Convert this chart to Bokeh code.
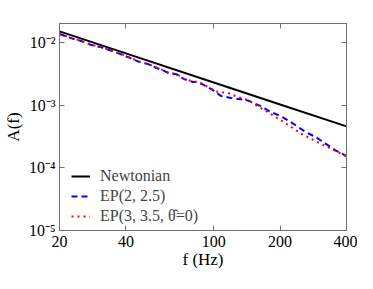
from bokeh.plotting import figure
from bokeh.models import (FixedTicker, CustomJSTickFormatter, LogAxis, Legend,
                          LegendItem)
from bokeh.embed import file_html
from bokeh.resources import INLINE

# ---- data ----
f_newt = [20, 40, 100, 200, 400]
a_newt = [0.0150, 0.00668, 0.00229, 0.00102, 0.000458]

f_ep2 = [20, 22.7, 25.1, 27.9, 31.0, 34.4, 38.1, 42.3, 45.9, 50.5, 54.8, 59.6,
         62.8, 67.6, 73.4, 80.6, 84.9, 90.4, 99.2, 107.8, 119.6, 132.7, 144.3,
         163.4, 181.4, 201.2, 223.2, 261.0, 289.6, 321.4, 356.6, 400]
a_ep2 = [0.01358, 0.01159, 0.01049, 0.00906, 0.00832, 0.00735, 0.00643,
         0.00555, 0.00489, 0.00450, 0.00393, 0.00352, 0.00320, 0.00311,
         0.00259, 0.00234, 0.00232, 0.00208, 0.00173, 0.00140, 0.00130,
         0.00124, 0.00117, 0.000960, 0.000778, 0.000664, 0.000538, 0.000373,
         0.000310, 0.000243, 0.000190, 0.000154]

f_ep3 = [20, 22.7, 25.1, 27.9, 31.0, 34.4, 38.1, 42.3, 45.9, 50.5, 54.8, 59.6,
         62.8, 67.6, 73.4, 80.6, 84.9, 90.4, 99.2, 104.5, 116.0, 128.7, 142.8,
         172.2, 207.6, 253.0, 305.2, 364.0, 400]
a_ep3 = [0.01380, 0.01170, 0.01060, 0.00915, 0.00840, 0.00742, 0.00650,
         0.00560, 0.00495, 0.00455, 0.00398, 0.00356, 0.00325, 0.00315,
         0.00262, 0.00238, 0.00234, 0.00210, 0.00175, 0.00162, 0.00156,
         0.00135, 0.00120, 0.000807, 0.000538, 0.000339, 0.000243, 0.000179,
         0.000152]

x_ticks = [20, 40, 100, 200, 400]
y_ticks = [1e-5, 1e-4, 1e-3, 1e-2]
series_names = ["Newtonian", "EP(2, 2.5)", "EP(3, 3.5, \u03b8\u0302=0)"]
x_title = "f (Hz)"
y_title = "A(f)"

SERIF = "Liberation Serif"
AXIS_COLOR = "#707070"
W, H = 357, 273
BL, BR, BT, BB = 58, 11, 23, 43

p = figure(width=W, height=H, x_axis_type="log", y_axis_type="log",
           x_range=(20, 400), y_range=(1e-5, 2e-2),
           output_backend="svg", toolbar_location=None,
           min_border_left=BL, min_border_right=BR,
           min_border_top=BT, min_border_bottom=BB)
p.grid.visible = False
p.outline_line_color = AXIS_COLOR
p.background_fill_color = "white"

sup = CustomJSTickFormatter(code="""
const e = Math.round(Math.log10(tick));
const m = {'-':'\u207b','0':'\u2070','1':'\u00b9','2':'\u00b2','3':'\u00b3','4':'\u2074','5':'\u2075','6':'\u2076','7':'\u2077','8':'\u2078','9':'\u2079'};
return '10' + String(e).split('').map(c => m[c]).join('');
""")
xfmt = CustomJSTickFormatter(code="return String(Math.round(tick));")
blank = CustomJSTickFormatter(code="return '';")

def style(ax, labels=True):
    ax.axis_line_color = AXIS_COLOR
    ax.major_tick_line_color = AXIS_COLOR
    ax.major_tick_in = 5
    ax.major_tick_out = 0
    ax.minor_tick_line_color = None
    ax.major_label_text_font = SERIF
    ax.major_label_text_font_size = "16px" if labels else "1px"
    ax.major_label_text_color = "black"
    ax.axis_label_text_font = SERIF
    ax.axis_label_text_font_style = "normal"
    ax.axis_label_text_font_size = "17px"
    ax.axis_label_text_color = "black"

xa = p.xaxis[0]
xa.ticker = FixedTicker(ticks=x_ticks)
xa.formatter = xfmt
style(xa)
xa.major_label_standoff = 5
xa.axis_label = x_title
xa.axis_label_standoff = 0

ya = p.yaxis[0]
ya.ticker = FixedTicker(ticks=y_ticks)
ya.formatter = sup
style(ya)
ya.major_label_standoff = 4
ya.axis_label = y_title
ya.axis_label_standoff = 3

top = LogAxis(ticker=FixedTicker(ticks=x_ticks), formatter=blank)
style(top, labels=False)
top.major_label_standoff = 0
p.add_layout(top, "above")
right = LogAxis(ticker=FixedTicker(ticks=y_ticks), formatter=blank)
style(right, labels=False)
right.major_label_standoff = 0
p.add_layout(right, "right")

r1 = p.line(f_newt, a_newt, line_color="black", line_width=2)
r2 = p.line(f_ep2, a_ep2, line_color="#0000ff", line_width=2, line_dash="6 4")
r3 = p.line(f_ep3, a_ep3, line_color="#ff0000", line_width=2, line_dash="2 4")

legend = Legend(items=[LegendItem(label=series_names[0], renderers=[r1]),
                       LegendItem(label=series_names[1], renderers=[r2]),
                       LegendItem(label=series_names[2], renderers=[r3])],
                location=(12, 4), background_fill_alpha=0,
                border_line_color=None, label_text_font=SERIF,
                label_text_font_size="16px", glyph_width=19,
                label_standoff=10, spacing=0, label_height=20,
                glyph_height=20, padding=4)
p.add_layout(legend, "center")

open("out.html", "w").write(file_html(p, INLINE))
